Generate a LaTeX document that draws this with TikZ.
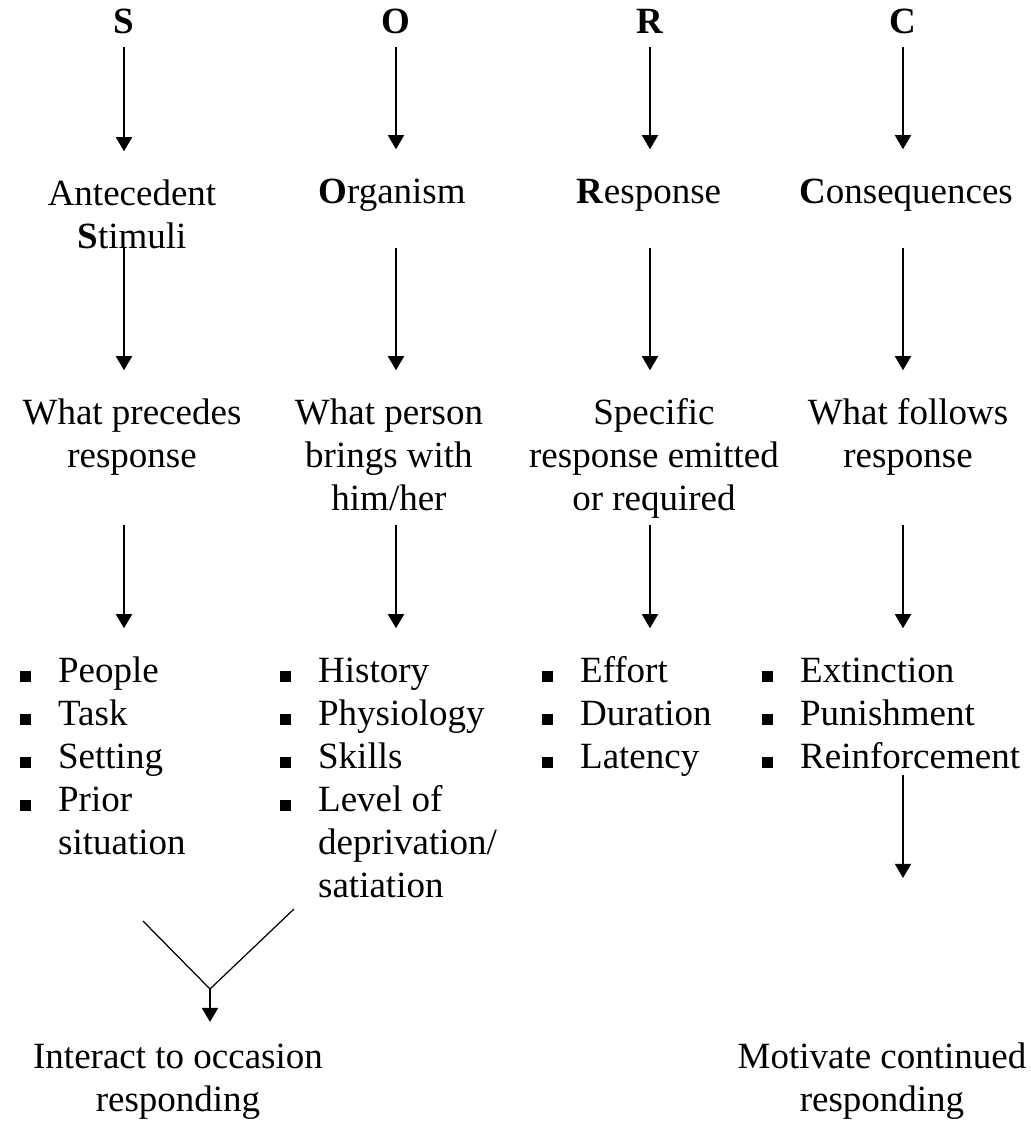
\documentclass[tikz,border=0pt]{standalone}
\usepackage{fontspec}
\setmainfont{Liberation Serif}
\usepackage{tikz}
\usetikzlibrary{arrows.meta}
\tikzset{>={Triangle[length=4.6pt,width=5.2pt]}}
\newcommand{\blt}{\makebox[12.5pt][l]{\rule[0.32pt]{3.6pt}{3.4pt}}}

\begin{document}
\begin{tikzpicture}[x=0.32432pt, y=-0.32432pt,
        txt/.style={inner sep=0pt, anchor=north, align=center, font=\fontsize{12pt}{13.95pt}\selectfont},
        lst/.style={txt, anchor=north west, align=left},
        arr/.style={->, line width=0.65pt},
        tonode/.style={arr, shorten >=7.7pt}]
    \useasboundingbox (0,0) rectangle (1031,1123);
    % Nodes
    \node[txt, anchor=base] (S) at (124,33) {\textbf{S}};
    \node[txt, anchor=base] (O) at (396,33) {\textbf{O}};
    \node[txt, anchor=base] (R) at (650,33) {\textbf{R}};
    \node[txt, anchor=base] (C) at (903,33) {\textbf{C}};

    \node[txt] (AS) at (132,175) {\strut Antecedent\\\textbf{S}timuli};
    \node[txt] (AO) at (392,173) {\strut\textbf{O}rganism};
    \node[txt] (AR) at (649,173) {\strut\textbf{R}esponse};
    \node[txt] (AC) at (906,173) {\strut\textbf{C}onsequences};

    \node[txt] (WS) at (132,394) {\strut What precedes\\response};
    \node[txt] (WO) at (389,394) {\strut What person\\brings with\\him/her};
    \node[txt] (WR) at (654,394) {\strut Specific\\response emitted\\or required};
    \node[txt] (WC) at (908,394) {\strut What follows\\response};

    \node[lst] (LS) at (19,652) {\strut\blt People\\\blt Task\\\blt Setting\\\blt Prior\\\hphantom{\blt}situation};
    \node[lst] (LO) at (279,652) {\strut\blt History\\\blt Physiology\\\blt Skills\\\blt Level of\\\hphantom{\blt}deprivation/\\\hphantom{\blt}satiation};
    \node[lst] (LR) at (541,652) {\strut\blt Effort\\\blt Duration\\\blt Latency};
    \node[lst] (LC) at (761,652) {\strut\blt Extinction\\\blt Punishment\\\blt Reinforcement};

    \node[txt] (IT) at (178,1038) {\strut Interact to occasion\\responding};
    \node[txt] (MC) at (882,1038) {\strut Motivate continued\\responding};

    % Arrows
    \coordinate (t1) at (0,47);
    \coordinate (t2) at (0,248);
    \coordinate (t3) at (0,525);
    \coordinate (t4) at (0,775);
    \coordinate (h4) at (0,878);
    \foreach \c/\a/\b/\d in {S/AS/WS/LS, O/AO/WO/LO, R/AR/WR/LR, C/AC/WC/LC} {
        \draw[tonode] (\c |- t1) -- (\c |- \a.north);
        \draw[tonode] (\c |- t2) -- (\c |- \b.north);
        \draw[tonode] (\c |- t3) -- (\c |- \d.north);
    }
    \draw[arr] (C |- t4) -- (C |- h4);

    \coordinate (vL) at (143,921);
    \coordinate (vR) at (294,909);
    \coordinate (vB) at (210,989);
    \draw[line width=0.4pt] (vL) -- (vB) -- (vR);
    \draw[arr, shorten >=5.2pt] (vB) -- (vB |- IT.north);
\end{tikzpicture}
\end{document}
